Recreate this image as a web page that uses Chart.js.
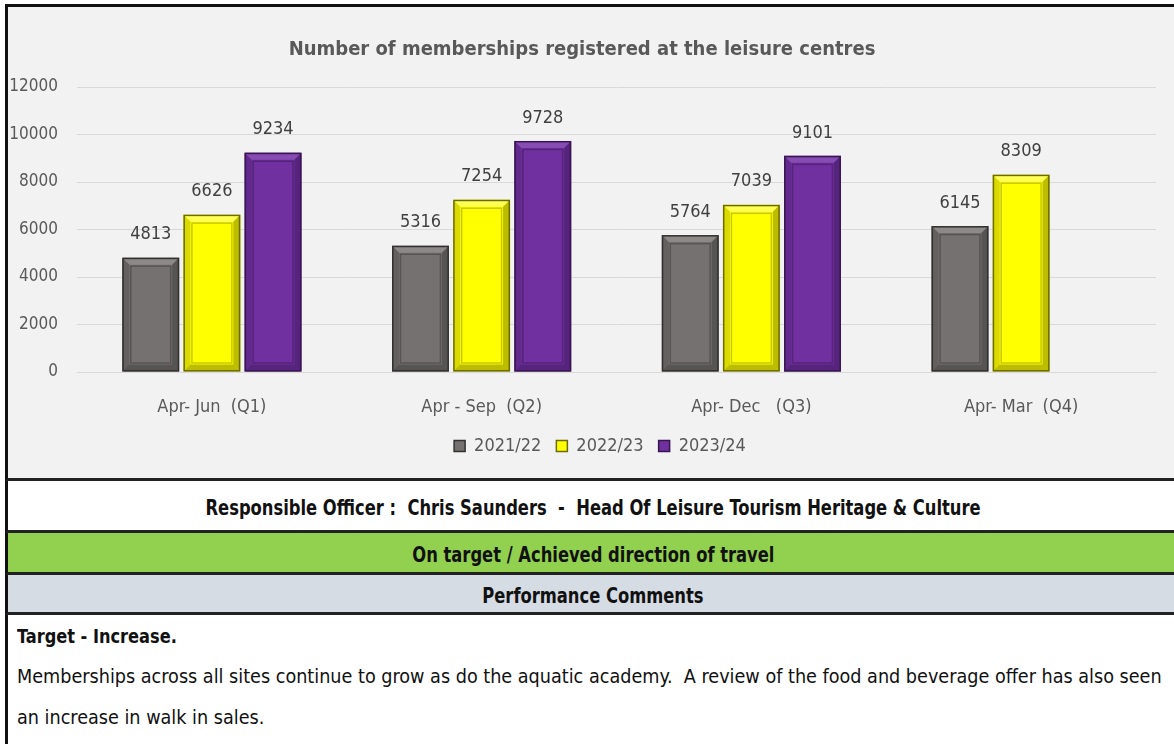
<!DOCTYPE html>
<html>
<head>
<meta charset="utf-8">
<script src="https://cdn.jsdelivr.net/npm/chart.js@4"></script>
<style>
    body { margin: 0; background: #fff; font-family: "DejaVu Sans Condensed", "Liberation Sans", sans-serif; }
    .sheet { position: relative; width: 1174px; height: 744px; overflow: hidden; }
    .box { position: absolute; left: 5px; right: -4px; border-left: 3px solid #111; }
    #chartBox { top: 4px; height: 471px; border-top: 3px solid #111; border-bottom: 3px solid #222; background: #f2f2f2; }
    .row { display: flex; align-items: center; justify-content: center; font-weight: bold; color: #111; font-size: 21px; white-space: pre; padding-top: 4px; }
    .row span { display: inline-block; transform: scaleX(0.865); }
    #officer { top: 481px; height: 45px; background: #fff; border-bottom: 3px solid #222; }
    #status { top: 533px; height: 35px; background: #92d050; border-bottom: 3px solid #222; }
    #perf { top: 575px; height: 33px; background: #d6dce4; border-bottom: 3px solid #222; }
    #comments { top: 615px; height: 140px; background: #fff; padding-left: 9px; color: #111; font-size: 20px; }
    #comments .target { font-weight: bold; margin-top: 9px; transform: scaleX(0.9); transform-origin: left; }
    #comments p { margin: 8px 0 0 0; line-height: 41px; white-space: pre; transform: scaleX(0.98); transform-origin: left; }
</style>
</head>
<body>
<div class="sheet">
    <div class="box" id="chartBox"><canvas id="membershipChart" width="1166" height="471"></canvas></div>
    <div class="box row" id="officer"><span>Responsible Officer :  Chris Saunders  -  Head Of Leisure Tourism Heritage &amp; Culture</span></div>
    <div class="box row" id="status"><span>On target / Achieved direction of travel</span></div>
    <div class="box row" id="perf"><span>Performance Comments</span></div>
    <div class="box" id="comments">
        <div class="target">Target - Increase.</div>
        <p>Memberships across all sites continue to grow as do the aquatic academy.  A review of the food and beverage offer has also seen
an increase in walk in sales.</p>
    </div>
</div>

<script>
// Datos del grafico
const quarters = ['Apr- Jun  (Q1)', 'Apr - Sep  (Q2)', 'Apr- Dec   (Q3)', 'Apr- Mar  (Q4)'];
const years = ['2021/22', '2022/23', '2023/24'];
const members2122 = [4813, 5316, 5764, 6145];
const members2223 = [6626, 7254, 7039, 8309];
const members2324 = [9234, 9728, 9101, null];
const yTicks = [0, 2000, 4000, 6000, 8000, 10000, 12000];

const FONT = '"DejaVu Sans Condensed", "Liberation Sans", sans-serif';
const TEXT_GREY = '#595959';

// colores: relleno, borde, linea interior, brillo
const palette = [
    { fill: '#767171', border: '#333030', inner: '#585454', light: '#a09c9c' },
    { fill: '#ffff00', border: '#6b6b00', inner: '#c8c800', light: '#ffff99' },
    { fill: '#7030a0', border: '#38164f', inner: '#552379', light: '#9a63c4' }
];

// Efecto bisel tipo Excel sobre cada barra
const bevelPlugin = {
    id: 'bevel',
    afterDatasetsDraw(chart) {
        const ctx = chart.ctx;
        chart.data.datasets.forEach((ds, i) => {
            const meta = chart.getDatasetMeta(i);
            const col = palette[i];
            meta.data.forEach((bar, j) => {
                if (ds.data[j] == null) return;
                const { x, y, base, width } = bar.getProps(['x', 'y', 'base', 'width'], true);
                const l = x - width / 2, r = x + width / 2, t = y, b = base;
                const e = 7;
                ctx.save();
                // lados del bisel
                ctx.fillStyle = col.light;
                ctx.globalAlpha = 0.55;
                ctx.beginPath();
                ctx.moveTo(l, t); ctx.lineTo(r, t); ctx.lineTo(r - e, t + e); ctx.lineTo(l + e, t + e); ctx.closePath();
                ctx.fill();
                ctx.fillStyle = col.border;
                ctx.globalAlpha = 0.45;
                ctx.beginPath();
                ctx.moveTo(r, t); ctx.lineTo(r, b); ctx.lineTo(r - e, b - e); ctx.lineTo(r - e, t + e); ctx.closePath();
                ctx.fill();
                ctx.beginPath();
                ctx.moveTo(l, b); ctx.lineTo(r, b); ctx.lineTo(r - e, b - e); ctx.lineTo(l + e, b - e); ctx.closePath();
                ctx.fill();
                ctx.globalAlpha = 0.25;
                ctx.beginPath();
                ctx.moveTo(l, t); ctx.lineTo(l + e, t + e); ctx.lineTo(l + e, b - e); ctx.lineTo(l, b); ctx.closePath();
                ctx.fill();
                // marco interior
                ctx.globalAlpha = 1;
                ctx.strokeStyle = col.inner;
                ctx.lineWidth = 1.5;
                ctx.strokeRect(l + e + 1.5, t + e + 1.5, width - 2 * e - 3, b - t - 2 * e - 3);
                // borde exterior
                ctx.strokeStyle = col.border;
                ctx.lineWidth = 1.5;
                ctx.strokeRect(l + 0.75, t + 0.75, width - 1.5, b - t - 1.5);
                ctx.restore();
            });
        });
    }
};

// Etiquetas de valor sobre las barras
const valueLabels = {
    id: 'valueLabels',
    afterDatasetsDraw(chart) {
        const ctx = chart.ctx;
        ctx.save();
        ctx.font = '18px ' + FONT;
        ctx.fillStyle = '#404040';
        ctx.textAlign = 'center';
        ctx.textBaseline = 'middle';
        chart.data.datasets.forEach((ds, i) => {
            chart.getDatasetMeta(i).data.forEach((bar, j) => {
                if (ds.data[j] == null) return;
                ctx.fillText(ds.data[j], bar.x, bar.y - 23);
            });
        });
        ctx.restore();
    }
};

// La leyenda de Excel queda algo a la derecha del centro
const legendShift = {
    id: 'legendShift',
    afterLayout(chart) {
        chart.legend.left += 36;
    }
};

const datasets = [members2122, members2223, members2324].map((values, i) => ({
    label: years[i],
    data: values,
    backgroundColor: palette[i].fill,
    borderColor: palette[i].border,
    borderWidth: 0,
    categoryPercentage: 0.68,
    barPercentage: 0.93
}));

new Chart(document.getElementById('membershipChart'), {
    type: 'bar',
    data: { labels: quarters, datasets: datasets },
    plugins: [bevelPlugin, valueLabels, legendShift],
    options: {
        responsive: false,
        animation: false,
        layout: { padding: { top: 0, left: 0, right: 18, bottom: 13 } },
        plugins: {
            title: {
                display: true,
                text: 'Number of memberships registered at the leisure centres',
                color: TEXT_GREY,
                font: { family: FONT, size: 20, weight: 'bold' },
                padding: { top: 31, bottom: 25 }
            },
            legend: {
                position: 'bottom',
                labels: {
                    color: TEXT_GREY,
                    font: { family: FONT, size: 18 },
                    boxWidth: 11,
                    boxHeight: 11,
                    padding: 15,
                    generateLabels(chart) {
                        return chart.data.datasets.map((ds, i) => ({
                            text: ds.label,
                            fillStyle: palette[i].fill,
                            strokeStyle: palette[i].border,
                            lineWidth: 1.5,
                            fontColor: TEXT_GREY,
                            datasetIndex: i
                        }));
                    }
                }
            },
            tooltip: { enabled: false }
        },
        scales: {
            x: {
                grid: { display: false, drawTicks: false },
                border: { color: '#d9d9d9' },
                ticks: { color: TEXT_GREY, font: { family: FONT, size: 18 }, padding: 25 },
                afterFit(scale) { scale.height = 50; }
            },
            y: {
                min: 0,
                max: 12000,
                afterBuildTicks(scale) { scale.ticks = yTicks.map(v => ({ value: v })); },
                grid: { color: '#d9d9d9', drawTicks: false },
                border: { display: false },
                ticks: { color: TEXT_GREY, font: { family: FONT, size: 17 }, padding: 19, callback: v => String(v) },
                afterFit(scale) { scale.width = 69; }
            }
        }
    }
});
</script>
</body>
</html>
